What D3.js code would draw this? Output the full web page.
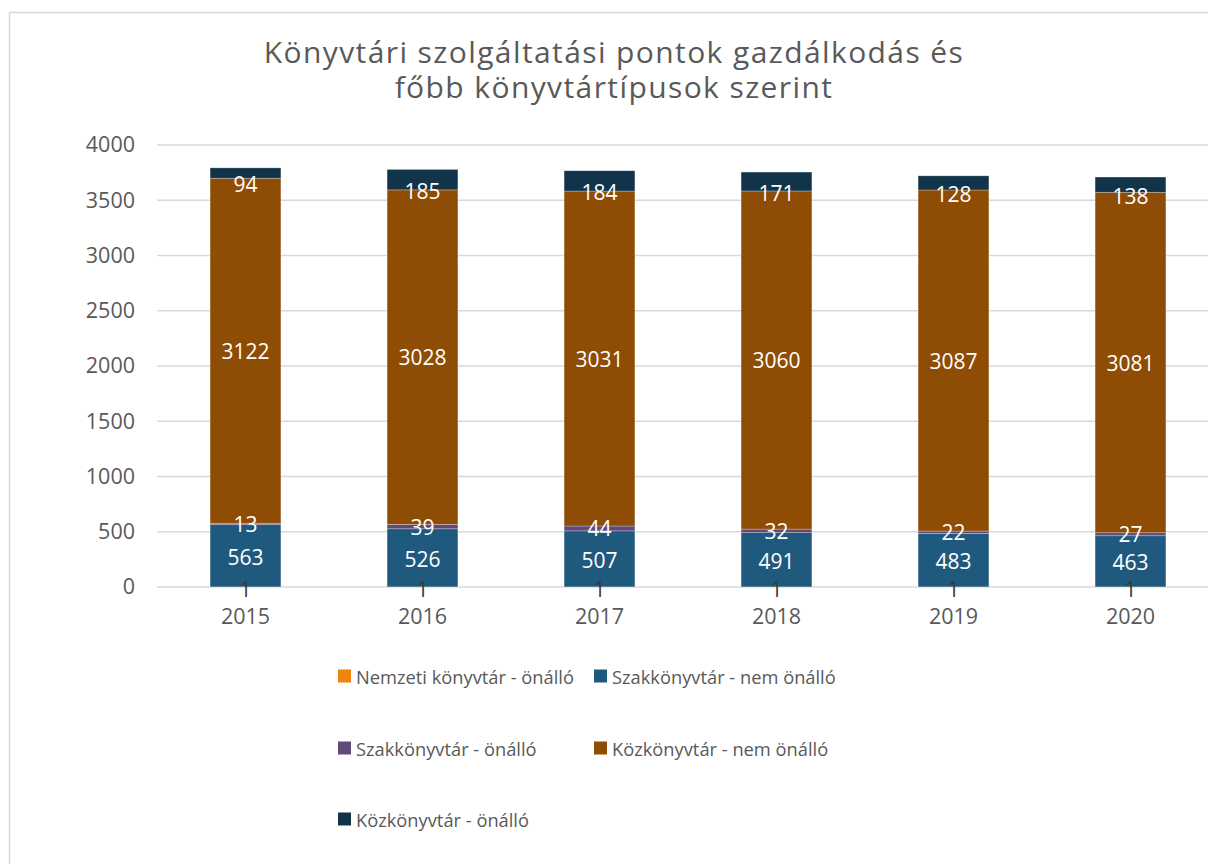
<!DOCTYPE html>
<html>
<head>
<meta charset="utf-8">
<script src="https://cdn.jsdelivr.net/npm/d3@7"></script>
<style>
  html, body { margin: 0; padding: 0; background: #fff; }
  svg { display: block; }
  text { font-family: "Open Sans", Lato, sans-serif; }
</style>
</head>
<body>
<svg id="chart" width="1208" height="864"></svg>
<script>
// ---- data ----
const titleLines = ["Könyvtári szolgáltatási pontok gazdálkodás és", "főbb könyvtártípusok szerint"];
const years = ["2015", "2016", "2017", "2018", "2019", "2020"];
const seriesNames = [
  "Nemzeti könyvtár - önálló",
  "Szakkönyvtár - nem önálló",
  "Szakkönyvtár - önálló",
  "Közkönyvtár - nem önálló",
  "Közkönyvtár - önálló"
];
const nemzetiOnallo = [1, 1, 1, 1, 1, 1];
const szakNemOnallo = [563, 526, 507, 491, 483, 463];
const szakOnallo = [13, 39, 44, 32, 22, 27];
const kozNemOnallo = [3122, 3028, 3031, 3060, 3087, 3081];
const kozOnallo = [94, 185, 184, 171, 128, 138];
const yTicks = [0, 500, 1000, 1500, 2000, 2500, 3000, 3500, 4000];
const colors = ["#F0820F", "#1F5A7E", "#604A7B", "#8E4C05", "#12344A"];

const seriesValues = [nemzetiOnallo, szakNemOnallo, szakOnallo, kozNemOnallo, kozOnallo];
const rows = years.map((yr, i) => {
  const r = { year: yr };
  seriesNames.forEach((s, k) => r[s] = seriesValues[k][i]);
  return r;
});

// ---- layout ----
const svg = d3.select("#chart");
const plot = { left: 157, right: 1219, top: 145, bottom: 587 };
const FONT = "'Open Sans', Lato, sans-serif";

// chart border
svg.append("rect")
  .attr("x", 9.5).attr("y", 12.5)
  .attr("width", 1230).attr("height", 900)
  .attr("fill", "none").attr("stroke", "#d9d9d9").attr("stroke-width", 1.5);

// title
svg.append("g").selectAll("text").data(titleLines).join("text")
  .attr("x", 614)
  .attr("y", (d, i) => 63 + i * 35)
  .attr("text-anchor", "middle")
  .attr("fill", "#595959")
  .style("font-size", "30px")
  .style("letter-spacing", "1.4px")
  .text(d => d);

const x = d3.scaleBand().domain(years).range([plot.left, plot.right]).paddingInner(0.6).paddingOuter(0.3);
const y = d3.scaleLinear().domain([0, 4000]).range([plot.bottom, plot.top]);

// gridlines
svg.append("g").selectAll("line").data(yTicks).join("line")
  .attr("x1", plot.left).attr("x2", 1208)
  .attr("y1", d => y(d)).attr("y2", d => y(d))
  .attr("stroke", "#d9d9d9").attr("stroke-width", 1.5);

// y axis labels
const yAxis = d3.axisLeft(y).tickValues(yTicks).tickFormat(d3.format("d")).tickSize(0).tickPadding(0);
const gy = svg.append("g").attr("transform", `translate(135,0)`).call(yAxis);
gy.select(".domain").remove();
gy.selectAll("text").attr("fill", "#595959").style("font-size", "21.5px").style("font-family", FONT);

// x axis labels
const xAxis = d3.axisBottom(x).tickSize(0).tickPadding(0);
const gx = svg.append("g").attr("transform", `translate(0,${plot.bottom + 22})`).call(xAxis);
gx.select(".domain").remove();
gx.selectAll("text").attr("fill", "#595959").style("font-size", "21.5px").style("font-family", FONT);

// stacks
const stack = d3.stack().keys(seriesNames);
const stacked = stack(rows);

const layers = svg.append("g").selectAll("g").data(stacked).join("g")
  .attr("fill", (d, i) => colors[i]);

layers.selectAll("rect").data(d => d).join("rect")
  .attr("x", d => x(d.data.year))
  .attr("width", x.bandwidth())
  .attr("y", d => y(d[1]))
  .attr("height", d => y(d[0]) - y(d[1]))
  .attr("stroke", "rgba(255,255,255,0.35)")
  .attr("stroke-width", 0.75);

// data labels
const labelG = svg.append("g");
stacked.forEach((layer, k) => {
  labelG.append("g").selectAll("text").data(layer).join("text")
    .attr("x", d => x(d.data.year) + x.bandwidth() / 2)
    .attr("y", d => (y(d[0]) + y(d[1])) / 2 + (k === 4 ? 11 : 0) + (k === 1 ? 1 : 0) + (k === 0 ? 2 : 0))
    .attr("text-anchor", "middle")
    .attr("dominant-baseline", "central")
    .attr("fill", k === 0 ? "#3a3a3a" : "#ffffff")
    .style("font-size", "21px")
    .text(d => d.data[layer.key]);
});

// legend
const legendPos = [
  { x: 338, y: 676 }, { x: 594, y: 676 },
  { x: 338, y: 748 }, { x: 594, y: 748 },
  { x: 338, y: 819 }
];
const lg = svg.append("g").selectAll("g").data(seriesNames).join("g")
  .attr("transform", (d, i) => `translate(${legendPos[i].x},${legendPos[i].y})`);
lg.append("rect").attr("x", 0).attr("y", -6.5).attr("width", 13).attr("height", 13)
  .attr("fill", (d, i) => colors[i]);
lg.append("text").attr("x", 18).attr("y", 0)
  .attr("dominant-baseline", "central")
  .attr("fill", "#595959")
  .style("font-size", "18.3px")
  .text(d => d);
</script>
</body>
</html>
